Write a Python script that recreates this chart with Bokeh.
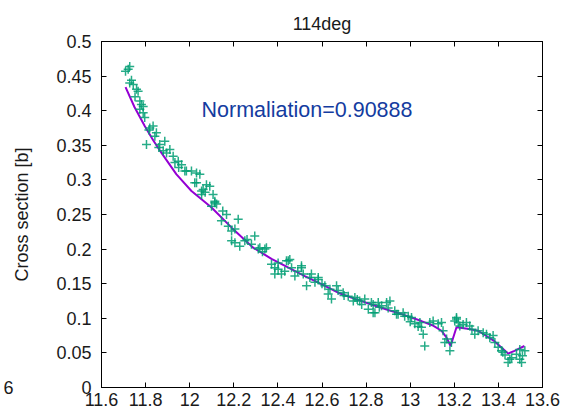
from bokeh.plotting import figure
from bokeh.models import Label, LinearAxis, FixedTicker, Range1d
from bokeh.embed import file_html
from bokeh.resources import INLINE

title_text = "114deg"
y_label = "Cross section [b]"
norm_text = "Normaliation=0.90888"
edge_text = "6"

x_ticks = [11.6, 11.8, 12.0, 12.2, 12.4, 12.6, 12.8, 13.0, 13.2, 13.4, 13.6]
x_tick_labels = ["11.6", "11.8", "12", "12.2", "12.4", "12.6", "12.8", "13", "13.2", "13.4", "13.6"]
y_ticks = [0.0, 0.05, 0.1, 0.15, 0.2, 0.25, 0.3, 0.35, 0.4, 0.45, 0.5]
y_tick_labels = ["0", "0.05", "0.1", "0.15", "0.2", "0.25", "0.3", "0.35", "0.4", "0.45", "0.5"]

# fitted curve (purple)
fit_x = [11.709, 11.750, 11.796, 11.835, 11.872, 11.940, 12.008, 12.099, 12.190, 12.288,
         12.371, 12.450, 12.522, 12.600, 12.673, 12.750, 12.824, 12.900, 12.961, 13.051,
         13.100, 13.142, 13.165, 13.183, 13.210, 13.260, 13.308, 13.382, 13.444, 13.473, 13.518]
fit_y = [0.434, 0.405, 0.378, 0.357, 0.339, 0.308, 0.284, 0.260, 0.231, 0.202,
         0.186, 0.173, 0.161, 0.149, 0.137, 0.128, 0.120, 0.112, 0.106, 0.096,
         0.090, 0.082, 0.072, 0.060, 0.087, 0.085, 0.082, 0.067, 0.049, 0.053, 0.060]

# measured data (green crosses)
data_x = [11.709, 11.721, 11.728, 11.728, 11.736, 11.744, 11.759, 11.766, 11.774, 11.781,
          11.789, 11.774, 11.789, 11.796, 11.819, 11.834, 11.842, 11.804, 11.849, 11.864,
          11.887, 11.880, 11.895, 11.910, 11.925, 11.933, 11.948, 11.963, 11.985, 12.008,
          12.031, 11.978, 12.046, 12.023, 12.031, 12.076, 12.091, 12.061, 12.054, 12.054,
          12.106, 12.114, 12.122, 12.099, 12.114, 12.167, 12.220, 12.144, 12.175, 12.190,
          12.205, 12.190, 12.227, 12.295, 12.250, 12.280, 12.318, 12.348, 12.205, 12.311,
          12.341, 12.371, 12.401, 12.386, 12.401, 12.439, 12.454, 12.431, 12.462, 12.507,
          12.477, 12.515, 12.545, 12.583, 12.568, 12.530, 12.613, 12.636, 12.628, 12.666,
          12.673, 12.696, 12.643, 12.719, 12.749, 12.742, 12.771, 12.794, 12.824, 12.855,
          12.447, 12.507, 12.386, 12.416, 12.583, 12.552, 12.810, 12.832, 12.780, 12.840,
          12.832, 12.870, 12.893, 12.908, 12.900, 12.930, 12.945, 12.968, 12.991, 13.006,
          13.021, 13.044, 13.051, 13.059, 13.066, 13.089, 13.104, 13.127, 13.142, 13.149,
          13.165, 13.157, 13.180, 13.187, 13.202, 13.210, 13.218, 13.210, 13.225, 13.255,
          13.270, 13.293, 13.308, 13.331, 13.346, 13.361, 13.376, 13.384, 13.399, 13.414,
          13.444, 13.452, 13.482, 13.497, 13.505, 13.520, 13.497, 13.460, 13.509, 12.938,
          12.975, 13.036, 13.000, 12.860, 12.760, 12.700, 12.600, 12.490, 12.330, 12.260,
          12.150, 12.070, 11.950, 11.860, 11.815, 11.752, 13.240, 13.280, 13.420, 13.430]
data_y = [0.457, 0.460, 0.464, 0.440, 0.444, 0.438, 0.431, 0.428, 0.414, 0.409,
          0.406, 0.402, 0.397, 0.390, 0.375, 0.378, 0.363, 0.351, 0.368, 0.351,
          0.356, 0.342, 0.339, 0.344, 0.334, 0.325, 0.327, 0.322, 0.313, 0.313,
          0.310, 0.313, 0.308, 0.296, 0.296, 0.293, 0.291, 0.286, 0.284, 0.279,
          0.279, 0.269, 0.265, 0.262, 0.267, 0.250, 0.243, 0.241, 0.233, 0.226,
          0.229, 0.212, 0.204, 0.219, 0.212, 0.207, 0.202, 0.202, 0.209, 0.200,
          0.200, 0.178, 0.171, 0.173, 0.180, 0.183, 0.185, 0.168, 0.173, 0.173,
          0.161, 0.164, 0.159, 0.156, 0.152, 0.147, 0.147, 0.142, 0.135, 0.147,
          0.140, 0.137, 0.128, 0.132, 0.130, 0.125, 0.125, 0.128, 0.123, 0.123,
          0.183, 0.176, 0.164, 0.164, 0.159, 0.164, 0.113, 0.108, 0.120, 0.108,
          0.120, 0.118, 0.123, 0.125, 0.115, 0.111, 0.106, 0.108, 0.103, 0.101,
          0.092, 0.094, 0.087, 0.077, 0.060, 0.094, 0.096, 0.092, 0.094, 0.082,
          0.070, 0.065, 0.053, 0.065, 0.096, 0.101, 0.094, 0.099, 0.089, 0.094,
          0.089, 0.077, 0.082, 0.079, 0.077, 0.072, 0.075, 0.065, 0.058, 0.053,
          0.036, 0.041, 0.048, 0.041, 0.036, 0.053, 0.055, 0.043, 0.046, 0.106,
          0.103, 0.088, 0.095, 0.116, 0.127, 0.133, 0.150, 0.168, 0.196, 0.214,
          0.255, 0.282, 0.318, 0.347, 0.372, 0.420, 0.091, 0.084, 0.051, 0.047]

FONT = "Liberation Sans"

p = figure(width=563, height=415,
           x_range=Range1d(11.6, 13.6), y_range=Range1d(0, 0.5),
           output_backend="svg", toolbar_location=None,
           min_border_left=100, min_border_right=21,
           min_border_top=41, min_border_bottom=28)
p.grid.visible = False
p.outline_line_color = "black"
p.background_fill_color = "white"
p.border_fill_color = "white"

p.title.text = title_text
p.title.align = "center"
p.title.text_font = FONT
p.title.text_font_size = "18px"
p.title.text_font_style = "normal"
p.title.text_color = "#1a1a1a"
p.title.standoff = 16

p.line(fit_x, fit_y, line_color="#9400d3", line_width=2)
p.scatter(data_x, data_y, marker="cross", size=9, line_color="#009e73",
          line_width=1.5, line_alpha=0.85)

bottom_axis = p.below[0]
left_axis = p.left[0]
top_axis = LinearAxis()
right_axis = LinearAxis()
p.add_layout(top_axis, "above")
p.add_layout(right_axis, "right")

xticker = FixedTicker(ticks=x_ticks)
yticker = FixedTicker(ticks=y_ticks)
bottom_axis.ticker = xticker
top_axis.ticker = xticker
left_axis.ticker = yticker
right_axis.ticker = yticker

for ax in [bottom_axis, left_axis, top_axis, right_axis]:
    ax.major_tick_in = 5
    ax.major_tick_out = 0
    ax.minor_tick_in = 0
    ax.minor_tick_out = 0
    ax.axis_line_color = "black"
    ax.major_tick_line_color = "black"
    ax.major_label_text_font = FONT
    ax.major_label_text_font_size = "18px"
    ax.major_label_text_color = "#1a1a1a"

bottom_axis.major_label_overrides = dict(zip(x_ticks, x_tick_labels))
left_axis.major_label_overrides = dict(zip(y_ticks, y_tick_labels))
top_axis.major_label_overrides = {t: "" for t in x_ticks}
right_axis.major_label_overrides = {t: "" for t in y_ticks}
top_axis.major_label_standoff = 0
right_axis.major_label_standoff = 0
bottom_axis.major_label_standoff = 5
left_axis.major_label_standoff = 10

left_axis.axis_label = y_label
left_axis.axis_label_text_font = FONT
left_axis.axis_label_text_font_size = "18px"
left_axis.axis_label_text_font_style = "normal"
left_axis.axis_label_text_color = "#1a1a1a"
left_axis.axis_label_standoff = 21

# stray tick label of a neighbouring panel at the left edge
edge_axis = LinearAxis(ticker=FixedTicker(ticks=[0.0]))
edge_axis.major_label_overrides = {0.0: edge_text}
edge_axis.axis_line_color = None
edge_axis.major_tick_line_color = None
edge_axis.minor_tick_line_color = None
edge_axis.major_tick_in = 0
edge_axis.major_tick_out = 0
edge_axis.minor_tick_in = 0
edge_axis.minor_tick_out = 0
edge_axis.major_label_standoff = -4
edge_axis.major_label_text_font = FONT
edge_axis.major_label_text_font_size = "18px"
edge_axis.major_label_text_color = "#1a1a1a"
p.add_layout(edge_axis, "left")

p.add_layout(Label(x=12.0535, y=0.4016, text=norm_text, text_align="left",
                   text_baseline="alphabetic", text_font=FONT,
                   text_font_size="21.5px", text_color="#143ca0"))

open("out.html", "w").write(file_html(p, INLINE))
